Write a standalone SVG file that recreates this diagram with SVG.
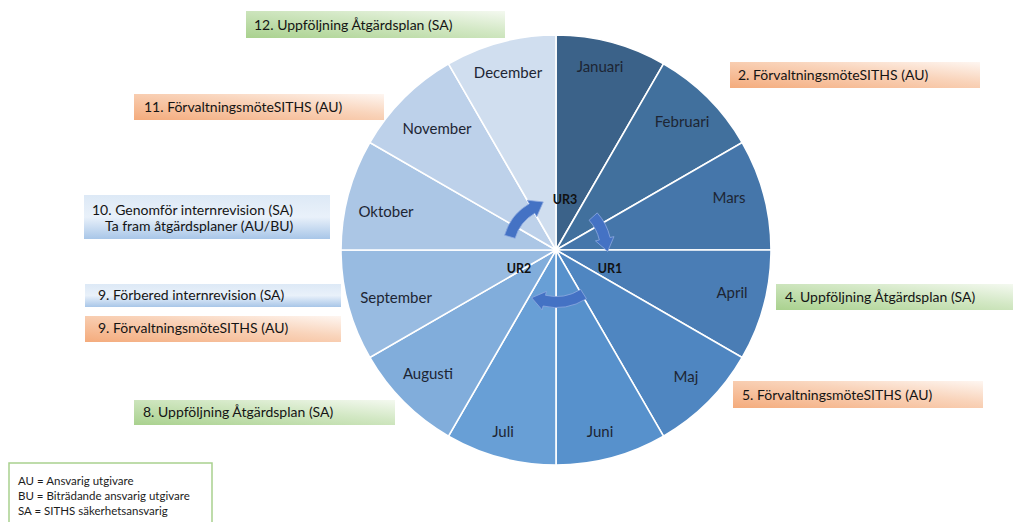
<svg xmlns="http://www.w3.org/2000/svg" width="1013" height="522" viewBox="0 0 1013 522">
<defs>
<style>
.lbl{font-family:Lato,"Open Sans","Liberation Sans",sans-serif;font-size:14px;fill:#141414}
.mon{font-family:Lato,"Open Sans","Liberation Sans",sans-serif;font-size:15px;fill:#1d2533;text-anchor:middle}
.ur{font-family:Lato,"Open Sans","Liberation Sans",sans-serif;font-size:12.5px;font-weight:bold;fill:#111;text-anchor:middle}
.leg{font-family:Lato,"Open Sans","Liberation Sans",sans-serif;font-size:11.5px;fill:#1c1c1c}
.wedge{stroke:#ffffff;stroke-width:1.6}
.arr{fill:#4472c4;stroke:#8eaadf;stroke-width:0.8}
.green{fill:url(#gGreen)}
.orange{fill:url(#gOrange)}
.blue{fill:url(#gBlue)}
</style>
<linearGradient id="gGreen" x1="0" y1="1" x2="1" y2="0">
<stop offset="0" stop-color="#a9d18e"/>
<stop offset="0.6" stop-color="#d3e8c5"/>
<stop offset="1" stop-color="#f4f9f0"/>
</linearGradient>
<linearGradient id="gOrange" x1="0" y1="1" x2="1" y2="0">
<stop offset="0" stop-color="#f4ab7c"/>
<stop offset="0.6" stop-color="#f9d4bb"/>
<stop offset="1" stop-color="#fef6f1"/>
</linearGradient>
<linearGradient id="gBlue" x1="0" y1="0" x2="0" y2="1">
<stop offset="0" stop-color="#dde9f6"/>
<stop offset="0.5" stop-color="#e9f1fa"/>
<stop offset="1" stop-color="#a8c6e8"/>
</linearGradient>
</defs>
<rect width="1013" height="522" fill="#ffffff"/>

<g id="wheel">
<path class="wedge" fill="#3b6289" d="M556,250 L556,35 A215,215 0 0 1 663.5,63.81 Z"/>
<path class="wedge" fill="#41709d" d="M556,250 L663.5,63.81 A215,215 0 0 1 742.19,142.5 Z"/>
<path class="wedge" fill="#4576aa" d="M556,250 L742.19,142.5 A215,215 0 0 1 771,250 Z"/>
<path class="wedge" fill="#4a7db5" d="M556,250 L771,250 A215,215 0 0 1 742.19,357.5 Z"/>
<path class="wedge" fill="#4f86c1" d="M556,250 L742.19,357.5 A215,215 0 0 1 663.5,436.19 Z"/>
<path class="wedge" fill="#5791cc" d="M556,250 L663.5,436.19 A215,215 0 0 1 556,465 Z"/>
<path class="wedge" fill="#689fd6" d="M556,250 L556,465 A215,215 0 0 1 448.5,436.19 Z"/>
<path class="wedge" fill="#81addb" d="M556,250 L448.5,436.19 A215,215 0 0 1 369.81,357.5 Z"/>
<path class="wedge" fill="#98bbe1" d="M556,250 L369.81,357.5 A215,215 0 0 1 341,250 Z"/>
<path class="wedge" fill="#abc6e5" d="M556,250 L341,250 A215,215 0 0 1 369.81,142.5 Z"/>
<path class="wedge" fill="#bdd1ea" d="M556,250 L369.81,142.5 A215,215 0 0 1 448.5,63.81 Z"/>
<path class="wedge" fill="#d0deef" d="M556,250 L448.5,63.81 A215,215 0 0 1 556,35 Z"/>
</g>

<g id="months">
<text class="mon" x="600" y="72">Januari</text>
<text class="mon" x="682" y="127">Februari</text>
<text class="mon" x="729" y="203">Mars</text>
<text class="mon" x="732" y="298">April</text>
<text class="mon" x="686" y="382">Maj</text>
<text class="mon" x="600" y="437">Juni</text>
<text class="mon" x="503" y="437">Juli</text>
<text class="mon" x="428" y="379">Augusti</text>
<text class="mon" x="396" y="303">September</text>
<text class="mon" x="386" y="217">Oktober</text>
<text class="mon" x="437" y="134">November</text>
<text class="mon" x="508" y="78">December</text>
</g>

<g id="connectors">
<path class="arr" d="M597.24,212.86 A55.5,55.5 0 0 1 610.08,237.51 L613.98,236.61 L607.65,251.42 L595.46,240.89 L599.36,239.99 A44.5,44.5 0 0 0 589.07,220.23 Z"/>
<path class="arr" d="M586.47,298.76 A57.5,57.5 0 0 1 543.06,306.03 L542.16,309.93 L531.63,297.75 L546.44,291.41 L545.54,295.31 A46.5,46.5 0 0 0 580.64,289.43 Z"/>
<path class="arr" d="M504.57,235.26 A53.5,53.5 0 0 1 529.25,203.67 L527.25,200.20 L543.26,201.93 L536.75,216.66 L534.75,213.19 A42.5,42.5 0 0 0 515.14,238.29 Z"/>
</g>

<g id="ur-labels">
<text class="ur" x="565" y="204">UR3</text>
<text class="ur" x="610" y="273">UR1</text>
<text class="ur" x="519" y="273">UR2</text>
</g>

<g id="n12">
<rect class="green" x="246" y="11" width="259" height="27"/>
<text class="lbl" x="254" y="30">12. Uppföljning Åtgärdsplan (SA)</text>
</g>
<g id="n2">
<rect class="orange" x="730" y="62" width="250" height="26"/>
<text class="lbl" x="738" y="80">2. FörvaltningsmöteSITHS (AU)</text>
</g>
<g id="n11">
<rect class="orange" x="134" y="94" width="250" height="26"/>
<text class="lbl" x="144" y="112">11. FörvaltningsmöteSITHS (AU)</text>
</g>
<g id="n10">
<rect class="blue" x="84" y="195" width="246" height="44"/>
<text class="lbl" x="92" y="215">10. Genomför internrevision (SA)</text>
<text class="lbl" x="105" y="231">Ta fram åtgärdsplaner (AU/BU)</text>
</g>
<g id="n9a">
<rect class="blue" x="85" y="284" width="256" height="23"/>
<text class="lbl" x="98" y="300">9. Förbered internrevision (SA)</text>
</g>
<g id="n9b">
<rect class="orange" x="85" y="316" width="256" height="26"/>
<text class="lbl" x="98" y="333">9. FörvaltningsmöteSITHS (AU)</text>
</g>
<g id="n4">
<rect class="green" x="776" y="284" width="237" height="26"/>
<text class="lbl" x="785" y="302">4. Uppföljning Åtgärdsplan (SA)</text>
</g>
<g id="n5">
<rect class="orange" x="733" y="381" width="250" height="27"/>
<text class="lbl" x="742" y="400">5. FörvaltningsmöteSITHS (AU)</text>
</g>
<g id="n8">
<rect class="green" x="134" y="400" width="261" height="25"/>
<text class="lbl" x="143" y="417">8. Uppföljning Åtgärdsplan (SA)</text>
</g>

<g id="legend">
<rect x="9" y="463" width="203" height="70" fill="#ffffff" stroke="#a9d18e" stroke-width="1.5"/>
<text class="leg" x="18" y="485">AU = Ansvarig utgivare</text>
<text class="leg" x="18" y="500">BU = Biträdande ansvarig utgivare</text>
<text class="leg" x="18" y="515">SA = SITHS säkerhetsansvarig</text>
</g>
</svg>
